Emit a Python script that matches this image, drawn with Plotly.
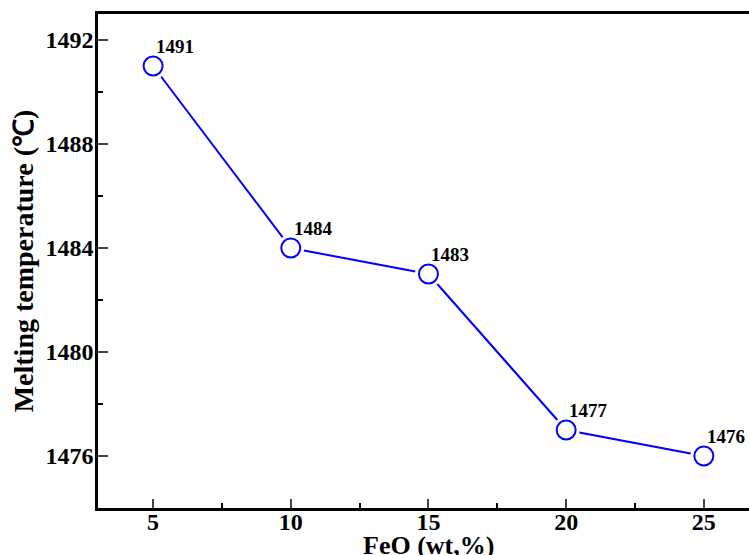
import plotly.graph_objects as go

feo = [5, 10, 15, 20, 25]
melting_temp = [1491, 1484, 1483, 1477, 1476]
point_labels = ["1491", "1484", "1483", "1477", "1476"]
x_ticks = [5, 10, 15, 20, 25]
y_ticks = [1476, 1480, 1484, 1488, 1492]
x_title = "FeO (wt,%)"
y_title = "Melting temperature (℃)"

FONT = "Liberation Serif, Times New Roman, serif"
BLUE = "#0000FF"

fig = go.Figure()
fig.add_trace(go.Scatter(
    x=feo, y=melting_temp, mode="lines",
    line=dict(color=BLUE, width=2), showlegend=False, hoverinfo="skip",
))
fig.add_trace(go.Scatter(
    x=feo, y=melting_temp, mode="markers",
    marker=dict(symbol="circle", size=27, color="white", line=dict(width=0)),
    showlegend=False, hoverinfo="skip", cliponaxis=False,
))
fig.add_trace(go.Scatter(
    x=feo, y=melting_temp, mode="markers",
    marker=dict(symbol="circle", size=19, color="white",
                line=dict(color=BLUE, width=2)),
    showlegend=False, cliponaxis=False,
))

for xv, yv, t in zip(feo, melting_temp, point_labels):
    fig.add_annotation(x=xv, y=yv, text=t, showarrow=False,
                       xanchor="left", yanchor="middle", xshift=1, yshift=20,
                       font=dict(family=FONT, size=19, color="black", weight="bold"))

# x-axis title placed just below the tick labels (slightly cut by the bottom edge as in the reference)
fig.add_annotation(x=0.507, y=0, xref="paper", yref="paper", text=x_title,
                   showarrow=False, xanchor="center", yanchor="top", yshift=-21,
                   font=dict(family=FONT, size=26, color="black", weight="bold"))

fig.update_layout(
    width=749, height=555,
    margin=dict(l=98, r=0, t=14, b=47),
    paper_bgcolor="white", plot_bgcolor="white",
    font=dict(family=FONT, color="black"),
)
fig.update_xaxes(
    range=[3, 26.64], tickvals=x_ticks, ticks="inside", ticklen=9, tickwidth=2,
    showline=True, linewidth=2.5, linecolor="black", mirror=True,
    showgrid=False, zeroline=False, automargin=False, ticklabelstandoff=-10,
    tickfont=dict(family=FONT, size=24, color="black", weight="bold"),
    minor=dict(tickvals=[7.5, 12.5, 17.5, 22.5], ticks="inside", ticklen=5, tickwidth=2, tickcolor="black"),
)
fig.update_yaxes(
    range=[1474, 1493], tickvals=y_ticks, ticks="inside", ticklen=10, tickwidth=2,
    showline=True, linewidth=2.5, linecolor="black", mirror=False,
    showgrid=False, zeroline=False, automargin=False, ticklabelstandoff=-3,
    tickfont=dict(family=FONT, size=24, color="black", weight="bold"),
    minor=dict(tickvals=[1478, 1482, 1486, 1490], ticks="inside", ticklen=5, tickwidth=2, tickcolor="black"),
    title=dict(text=y_title, font=dict(family=FONT, size=28, color="black", weight="bold"), standoff=4),
)

fig.write_html("out.html", config={"displayModeBar": False},
               post_script="document.body.style.margin='0';document.body.style.overflow='hidden';")
